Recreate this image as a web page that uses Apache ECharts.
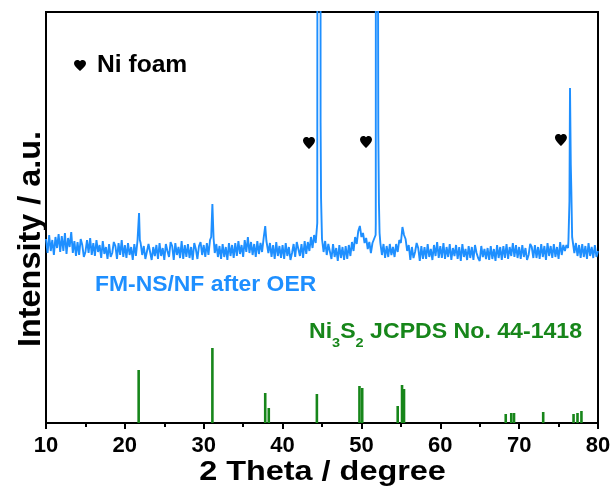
<!DOCTYPE html>
<html>
<head>
<meta charset="utf-8">
<script src="https://cdn.jsdelivr.net/npm/echarts@6/dist/echarts.min.js"></script>
<style>
  html, body { margin: 0; padding: 0; background: #fff; }
  #chart { width: 616px; height: 496px; }
</style>
</head>
<body>
<div id="chart"></div>
<script>
// XRD scan of FM-NS/NF after OER, sampled every 0.2 degree from 10 to 80 (a.u.)
const scanStart = 10;
const scanStep = 0.2;
const scanCounts = [
  184,170,188,172,183,168,186,175,189,171,
  187,172,190,169,185,176,191,170,182,167,
  181,168,184,178,166,171,183,170,185,168,
  180,167,183,171,178,165,182,169,176,164,
  179,166,170,181,177,164,180,168,183,166,
  178,165,180,168,176,163,179,167,182,190,
  180,168,177,164,166,179,181,163,176,167,
  178,164,180,167,175,163,179,172,166,181,
  177,163,180,168,176,165,182,164,178,166,
  179,165,176,163,180,174,164,177,181,168,
  178,166,180,168,183,190,188,170,179,166,
  177,164,179,166,176,163,180,167,178,165,
  180,167,182,169,178,166,183,171,186,170,
  181,168,179,166,182,169,180,171,185,195,
  183,170,180,166,178,164,181,167,177,165,
  178,164,180,167,176,163,170,179,166,181,
  180,167,179,165,182,169,181,172,186,175,
  188,180,200,200,200,184,171,182,168,179,
  177,164,179,166,175,162,178,165,176,163,
  177,164,178,167,181,172,186,179,192,197,
  186,190,180,185,174,181,170,180,184,188,
  200,200,180,168,179,165,177,166,179,168,
  176,166,179,171,183,180,196,188,184,172,
  178,163,176,165,171,180,175,162,177,164,
  176,164,179,166,174,163,178,167,181,165,
  177,165,180,164,176,166,179,163,175,167,
  178,164,176,162,179,166,174,163,177,165,
  176,163,178,170,165,162,177,166,174,164,
  175,163,177,164,174,162,178,165,176,163,
  177,165,179,164,176,167,180,166,178,165,
  176,164,178,166,175,163,168,179,176,165,
  178,165,176,164,179,166,177,163,180,167,
  177,165,179,166,176,164,181,168,178,172,
  178,175,220,250,184,170,180,167,178,165,
  179,166,177,164,180,167,176,165,178,166,
  172
];

// Sharp reflections recorded on a finer angular step: [2theta, intensity]
const peakProfiles = [
  [[21.7, 184], [21.8, 210], [21.9, 183]],
  [[30.95, 186], [31.1, 219], [31.25, 185]],
  [[37.65, 183], [37.8, 197], [37.95, 182]],
  [[44.40, 200], [44.48, 1500], [44.78, 1500], [44.82, 300], [44.88, 225]],
  [[51.82, 200], [51.86, 1500], [52.10, 1500], [52.14, 290], [52.22, 220], [52.30, 190]],
  [[76.25, 182], [76.38, 222], [76.45, 335], [76.55, 258], [76.62, 232], [76.72, 186]]
];

// Ni foam reflections marked with hearts: [2theta, height]
const heartMarks = [[43.35, 280], [50.58, 281], [75.3, 283]];

// Ni3S2 reference pattern (JCPDS 44-1418)
const stickTheta  = [21.75, 31.1, 37.8, 38.25, 44.35, 49.75, 50.1, 54.6, 55.15, 55.4, 68.3, 69.0, 69.35, 73.05, 76.9, 77.4, 77.9];
const stickHeight = [53, 75, 30, 15, 29, 37, 35, 17, 38, 34, 9, 10, 10, 11, 9, 10, 12];

const xTicks = { min: 10, max: 80, interval: 10 };

const FONT = '"Liberation Sans", Arial, sans-serif';
const BLUE = '#1e8fff';
const GREEN = '#17861a';
const HEART = 'path://M12,21.35L10.55,20.03C5.4,15.36 2,12.28 2,8.5C2,5.42 4.42,3 7.5,3C9.24,3 10.91,3.81 12,5.09C13.09,3.81 14.76,3 16.5,3C19.58,3 22,5.42 22,8.5C22,12.28 18.6,15.36 13.45,20.04L12,21.35Z';

function buildScan() {
  const pts = [];
  scanCounts.forEach((v, i) => {
    const t = +(scanStart + i * scanStep).toFixed(2);
    const covered = peakProfiles.some(p => t >= p[0][0] && t <= p[p.length - 1][0]);
    if (!covered) pts.push([t, v]);
  });
  peakProfiles.forEach(p => p.forEach(q => pts.push(q)));
  pts.sort((a, b) => a[0] - b[0]);
  return pts;
}

const chart = echarts.init(document.getElementById('chart'), null, { renderer: 'canvas' });

const heartData = heartMarks.map(c => ({ coord: c }));
// legend key for the Ni foam marker, placed beside its caption
heartData.push({ x: 80, y: 65.5, symbolSize: [12, 11] });

// each axis gets its own line style object for the plot frame
function frameLine() {
  return { show: true, onZero: false, lineStyle: { color: '#000', width: 2 } };
}

chart.setOption({
  animation: false,
  backgroundColor: '#fff',
  grid: { left: 46, right: 18, top: 12, bottom: 73, containLabel: false, outerBoundsMode: 'none',
          show: true, borderColor: '#000', borderWidth: 2, backgroundColor: 'transparent' },
  xAxis: [
    {
      type: 'value',
      min: xTicks.min, max: xTicks.max, interval: xTicks.interval,
      axisLine: frameLine(),
      axisTick: { length: 6, lineStyle: { color: '#000', width: 2 } },
      minorTick: { show: true, splitNumber: 2, length: 4, lineStyle: { color: '#000', width: 2 } },
      axisLabel: { fontSize: 22, fontWeight: 'bold', color: '#000', fontFamily: FONT, margin: 12, showMinLabel: true, showMaxLabel: true },
      splitLine: { show: false }
    },
    {
      type: 'value', position: 'top',
      min: xTicks.min, max: xTicks.max, interval: xTicks.interval,
      axisLine: frameLine(), axisTick: { show: false }, axisLabel: { show: false }, splitLine: { show: false }
    }
  ],
  yAxis: [
    {
      type: 'value', min: 0, max: 411,
      axisLine: frameLine(), axisTick: { show: false }, axisLabel: { show: false }, splitLine: { show: false }
    },
    {
      type: 'value', position: 'right', min: 0, max: 411,
      axisLine: frameLine(), axisTick: { show: false }, axisLabel: { show: false }, splitLine: { show: false }
    }
  ],
  series: [
    {
      type: 'line',
      data: buildScan(),
      symbol: 'none',
      showSymbol: false,
      clip: true,
      lineStyle: { color: BLUE, width: 1.9 },
      markPoint: {
        symbol: HEART,
        symbolSize: [12, 12],
        itemStyle: { color: '#000' },
        label: { show: false },
        data: heartData
      },
      z: 3
    },
    {
      type: 'bar',
      data: stickTheta.map((t, i) => [t, stickHeight[i]]),
      barWidth: 2.6,
      itemStyle: { color: GREEN },
      z: 2
    }
  ],
  graphic: [
    {
      type: 'text', x: 97, y: 66, scaleX: 1.07,
      style: { text: 'Ni foam', fontSize: 23, fontWeight: 'bold', fontFamily: FONT, fill: '#000',
               align: 'left', verticalAlign: 'middle' }
    },
    {
      type: 'text', x: 95, y: 285, scaleX: 1.04,
      style: { text: 'FM-NS/NF after OER', fontSize: 22, fontWeight: 'bold', fontFamily: FONT, fill: BLUE,
               align: 'left', verticalAlign: 'middle' }
    },
    {
      type: 'text', x: 309, y: 314, scaleX: 1.075,
      style: {
        text: '{n|Ni}{s|3}{n|S}{s|2}{n| JCPDS No. 44-1418}',
        align: 'left', verticalAlign: 'top',
        rich: {
          n: { fontSize: 21.5, fontWeight: 'bold', fontFamily: FONT, fill: GREEN, lineHeight: 36 },
          s: { fontSize: 13.5, fontWeight: 'bold', fontFamily: FONT, fill: GREEN, lineHeight: 14, verticalAlign: 'bottom' }
        }
      }
    },
    {
      type: 'text', x: 322.5, y: 473, scaleX: 1.2,
      style: { text: '2 Theta / degree', fontSize: 27, fontWeight: 'bold', fontFamily: FONT, fill: '#000',
               align: 'center', verticalAlign: 'middle' }
    },
    {
      type: 'text', x: 31, y: 239, rotation: Math.PI / 2, scaleX: 1.045, scaleY: 1.0,
      style: { text: 'Intensity / a.u.', fontSize: 31, fontWeight: 'bold', fontFamily: FONT, fill: '#000',
               align: 'center', verticalAlign: 'middle' }
    }
  ]
});
</script>
</body>
</html>
